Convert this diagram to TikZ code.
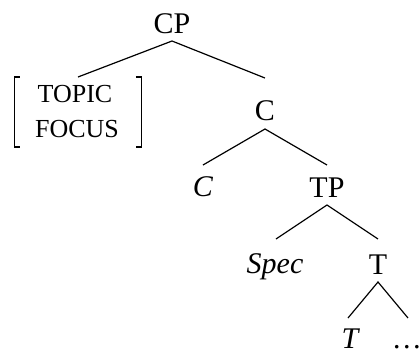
\documentclass[tikz,border=0pt]{standalone}
\usepackage{fontspec}
\setmainfont{Liberation Serif}
\usetikzlibrary{calc}
\begin{document}
\begin{tikzpicture}[x=0.5pt,y=-0.5pt,
  lab/.style={inner sep=0pt,outer sep=0pt,anchor=base,font=\fontsize{15pt}{18pt}\selectfont},
  feat/.style={inner sep=0pt,outer sep=0pt,anchor=base,font=\fontsize{13pt}{15pt}\selectfont},
  edge/.style={line width=0.6pt},
  brk/.style={line width=0.6pt}]
\useasboundingbox (0,0) rectangle (420,349);
\node[lab] (cp) at (172,33) {CP};
\node[feat] (topic) at (75,102) {TOPIC};
\node[feat] (focus) at (77,137) {FOCUS};
\node[lab] (cbar) at (265,120) {C};
\node[lab] (chead) at (203,196) {\itshape C};
\node[lab] (tp) at (327,197) {TP};
\node[lab] (spec) at (275,273) {\itshape Spec};
\node[lab] (tbar) at (378,274) {T};
\node[lab] (thead) at (350,348) {\itshape T};
\node[lab,anchor=base west] (dots) at (392,348) {\dots};
% brackets
\draw[brk] (20,77) -- (14.5,77) -- (14.5,147) -- (20,147);
\draw[brk] (136,77) -- (141.5,77) -- (141.5,147) -- (136,147);
% edges
\draw[edge] ($(topic.base)+(3,-25)$) -- ($(cp.base)+(0,8)$) -- ($(cbar.base)+(0,-42)$);
\draw[edge] ($(chead.base)+(0,-31)$) -- ($(cbar.base)+(0,9)$) -- ($(tp.base)+(0,-32)$);
\draw[edge] ($(spec.base)+(1,-34)$) -- ($(tp.base)+(0,8)$) -- ($(tbar.base)+(0,-35)$);
\draw[edge] ($(thead.base)+(-2,-30)$) -- ($(tbar.base)+(0,8)$) -- ($(dots.base west)+(16,-30)$);
\end{tikzpicture}
\end{document}
